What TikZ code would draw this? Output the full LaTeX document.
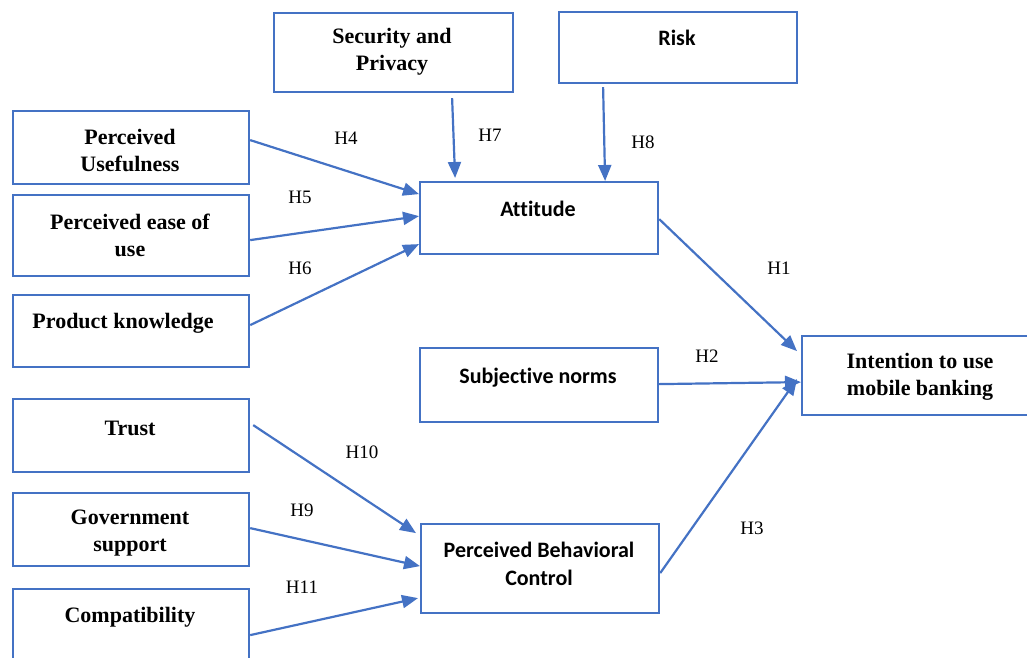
\documentclass[tikz,border=0pt]{standalone}
\usepackage{fontspec}
\setmainfont{Liberation Serif}
\newfontfamily\calfont[Ligatures={NoCommon}]{Carlito}
\usetikzlibrary{arrows.meta}
\definecolor{bblue}{RGB}{68,114,196}
\tikzset{
  box/.style={draw=bblue, line width=2.2pt, rectangle, anchor=north west, inner sep=0pt},
  ttext/.style={align=center, font=\fontsize{22}{27}\selectfont\bfseries},
  ctext/.style={align=center, font=\fontsize{22}{28}\selectfont\calfont\bfseries},
  hyp/.style={font=\fontsize{19}{23}\selectfont},
  link/.style={draw=bblue, line width=2.2pt, -{Triangle[length=16pt,width=13pt]}}
}
\begin{document}
\begin{tikzpicture}[x=1pt,y=-1pt]
\useasboundingbox (0,0) rectangle (1027,657);
% boxes
\node[box, minimum width=236pt, minimum height=73pt] (pu) at (12,110) {};
\node[box, minimum width=236pt, minimum height=81pt] (peou) at (12,194) {};
\node[box, minimum width=236pt, minimum height=72pt] (pk) at (12,294) {};
\node[box, minimum width=236pt, minimum height=73pt] (trust) at (12,398) {};
\node[box, minimum width=236pt, minimum height=73pt] (gov) at (12,492) {};
\node[box, minimum width=236pt, minimum height=72pt] (compat) at (12,588) {};
\node[box, minimum width=239pt, minimum height=79pt] (sec) at (273,12) {};
\node[box, minimum width=238pt, minimum height=71pt] (risk) at (558,11) {};
\node[box, minimum width=238pt, minimum height=72pt] (att) at (419,181) {};
\node[box, minimum width=238pt, minimum height=74pt] (sn) at (419,347) {};
\node[box, minimum width=238pt, minimum height=89pt] (pbc) at (420,523) {};
\node[box, minimum width=232pt, minimum height=79pt] (int) at (801,335) {};
% texts
\node[ttext] (pu-t) at (130,150.5) {Perceived\\Usefulness};
\node[ttext] (peou-t) at (130,235) {Perceived ease of\\use};
\node[ttext] (pk-t) at (123,323) {Product knowledge};
\node[ttext] (trust-t) at (130,428) {Trust};
\node[ttext] (gov-t) at (130,533) {Government\\support};
\node[ttext] (compat-t) at (130,617) {Compatibility};
\node[ttext] (sec-t) at (392,52) {Security and\\Privacy};
\node[ctext] (risk-t) at (677,38) {Risk};
\node[ctext] (att-t) at (538,209) {Attitude};
\node[ctext] (sn-t) at (538,378) {Subjective norms};
\node[ctext] (pbc-t) at (539,564) {Perceived Behavioral\\Control};
\node[ttext] (int-t) at (920,377) {Intention to use\\mobile banking};
% connectors
\draw[link] ([yshift=7.5pt]pu.east) -- ([yshift=24pt]att.west);
\draw[link] ([yshift=-4.5pt]peou.east) -- ([yshift=2pt]att.west);
\draw[link] ([yshift=6pt]pk.east) -- ([yshift=-26pt]att.west);
\draw[link] ([xshift=58.5pt,yshift=-5pt]sec.south) -- ([xshift=-84pt,yshift=3pt]att.north);
\draw[link] ([xshift=-75pt,yshift=-3pt]risk.south) -- ([xshift=66pt]att.north);
\draw[link] ([yshift=-1pt]att.east) -- ([xshift=-4pt,yshift=24.5pt]int.west);
\draw[link] ([yshift=1pt]sn.east) -- ([yshift=-6.5pt]int.west);
\draw[link] ([yshift=-4.5pt]pbc.east) -- ([xshift=-4pt,yshift=-3.5pt]int.west);
\draw[link] ([xshift=3pt,yshift=10.5pt]trust.east) -- ([xshift=-4pt,yshift=35.5pt]pbc.west);
\draw[link] ([yshift=1.5pt]gov.east) -- ([yshift=2.5pt]pbc.west);
\draw[link] ([yshift=-10pt]compat.east) -- ([xshift=-2pt,yshift=-29.5pt]pbc.west);
% hypothesis labels
\node[hyp] (h4) at (346,138) {H4};
\node[hyp] (h7) at (490,135) {H7};
\node[hyp] (h8) at (643,142) {H8};
\node[hyp] (h5) at (300,197) {H5};
\node[hyp] (h6) at (300,268) {H6};
\node[hyp] (h1) at (779,268) {H1};
\node[hyp] (h2) at (707,356) {H2};
\node[hyp] (h3) at (752,528) {H3};
\node[hyp] (h10) at (362,452) {H10};
\node[hyp] (h9) at (302,510) {H9};
\node[hyp] (h11) at (302,587) {H11};
\end{tikzpicture}
\end{document}
